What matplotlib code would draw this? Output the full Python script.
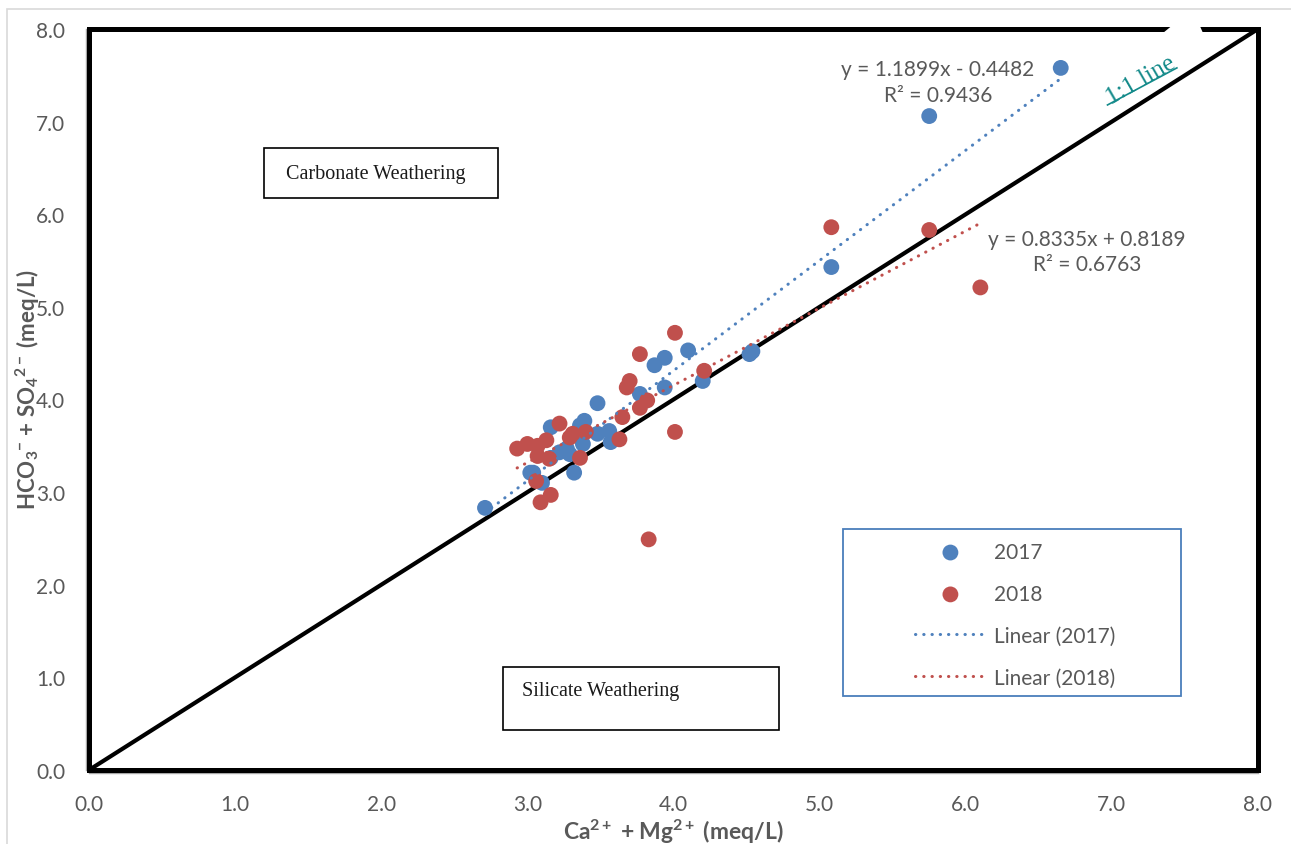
import matplotlib
matplotlib.use("Agg")
import numpy as np
from matplotlib import pyplot as plt
from matplotlib.patches import Rectangle, Polygon
from matplotlib.lines import Line2D

# Ca + Mg vs HCO3 + SO4 (meq/L)
x17 = [2.71, 3.02, 3.04, 3.10, 3.16, 3.16, 3.22, 3.27, 3.29, 3.32, 3.36, 3.39, 3.38, 3.48,
       3.48, 3.56, 3.57, 3.77, 3.87, 3.94, 3.94, 4.10, 4.20, 4.52, 4.54, 5.08, 5.75, 6.65]
y17 = [2.83, 3.21, 3.21, 3.10, 3.70, 3.37, 3.43, 3.47, 3.41, 3.21, 3.72, 3.77, 3.52, 3.63,
       3.96, 3.66, 3.54, 4.06, 4.37, 4.45, 4.13, 4.53, 4.20, 4.49, 4.52, 5.43, 7.06, 7.58]

x18 = [2.93, 3.00, 3.07, 3.07, 3.13, 3.15, 3.06, 3.16, 3.09, 3.22, 3.29, 3.31, 3.36, 3.40,
       3.63, 3.65, 3.68, 3.70, 3.77, 3.77, 3.82, 3.83, 4.01, 4.01, 4.21, 5.08, 5.75, 6.10]
y18 = [3.47, 3.52, 3.39, 3.50, 3.56, 3.36, 3.12, 2.97, 2.89, 3.74, 3.59, 3.63, 3.37, 3.65,
       3.57, 3.81, 4.13, 4.20, 4.49, 3.91, 3.99, 2.49, 3.65, 4.72, 4.31, 5.86, 5.83, 5.21]

# linear trend coefficients (slope, intercept, r2)
fit17 = (1.1899, -0.4482, 0.9436)
fit18 = (0.8335, 0.8189, 0.6763)

ticks = [0, 1, 2, 3, 4, 5, 6, 7, 8]

BLUE = "#4F81BD"
RED = "#C0504D"
GREY = "#595959"

plt.rcParams["font.family"] = ["Lato", "DejaVu Sans"]
plt.rcParams["mathtext.fontset"] = "custom"
plt.rcParams["mathtext.rm"] = "Lato:bold"
plt.rcParams["mathtext.it"] = "Lato:bold"
plt.rcParams["mathtext.bf"] = "Lato:bold"
plt.rcParams["mathtext.default"] = "rm"

W, H = 1291, 845
fig = plt.figure(figsize=(W / 100, H / 100), dpi=100)


def fpx(x, y):
    return (x / W, 1 - y / H)


ax = fig.add_axes([89 / W, 1 - 771 / H, (1258 - 89) / W, (771 - 30) / H])
ax.set_xlim(0, 8)
ax.set_ylim(0, 8)
ax.set_xticks(ticks)
ax.set_yticks(ticks)
ax.set_xticklabels(["%.1f" % t for t in ticks])
ax.set_yticklabels(["%.1f" % t for t in ticks])
ax.tick_params(length=0, labelsize=15, labelcolor=GREY, pad=15)
for s in ["top", "right"]:
    ax.spines[s].set_visible(False)
for s in ["left", "bottom"]:
    ax.spines[s].set_color("#A6A6A6")
    ax.spines[s].set_linewidth(1.0)
    ax.spines[s].set_position(("outward", 2))

# heavy frame round the plot
ax.add_patch(Rectangle((0, 0), 1, 1, transform=ax.transAxes, fill=False,
                       ec="black", lw=3.6, clip_on=False, zorder=5))

# 1:1 line
ax.plot([0, 8], [0, 8], color="black", lw=3.0, zorder=2)

ax.scatter(x17, y17, s=130, color=BLUE, edgecolors="none", zorder=3, label="2017")
ax.scatter(x18, y18, s=130, color=RED, edgecolors="none", zorder=3, label="2018")

dots = (0, (0.1, 2.6))
xx = np.array([min(x17), max(x17)])
ax.plot(xx, fit17[0] * xx + fit17[1], color=BLUE, lw=2.2, linestyle=dots,
        dash_capstyle="round", zorder=4, label="Linear (2017)")
xx = np.array([min(x18), max(x18)])
ax.plot(xx, fit18[0] * xx + fit18[1], color=RED, lw=2.2, linestyle=dots,
        dash_capstyle="round", zorder=4, label="Linear (2018)")

ax.text(5.81, 7.43, "y = %.4fx - %.4f\nR² = %.4f" % (fit17[0], -fit17[1], fit17[2]),
        ha="center", va="center", fontsize=15, color=GREY, linespacing=1.35)
ax.text(6.83, 5.60, "y = %.4fx + %.4f\nR² = %.4f" % (fit18[0], fit18[1], fit18[2]),
        ha="center", va="center", fontsize=15, color=GREY, linespacing=1.35)

# region boxes
ax.add_patch(Rectangle((1.20, 6.175), 1.60, 0.54, fill=True, fc="white", ec="black",
                       lw=1.2, zorder=6))
ax.text(1.345, 6.445, "Carbonate Weathering", ha="left", va="center", fontsize=14.5,
        family="Liberation Serif", color="#1a1a1a", zorder=7)
ax.add_patch(Rectangle((2.83, 0.432), 1.895, 0.68, fill=True, fc="white", ec="black",
                       lw=1.2, zorder=6))
ax.text(2.96, 0.855, "Silicate Weathering", ha="left", va="center", fontsize=14.5,
        family="Liberation Serif", color="#1a1a1a", zorder=7)

# 1:1 label, underlined
ax.text(7.20, 7.45, "1:1 line", rotation=30, ha="center", va="center", fontsize=18,
        family="Liberation Serif", color="#138A8A", zorder=7)
ax.add_line(Line2D([6.97, 7.445], [7.18, 7.58], color="#138A8A", lw=1.2, zorder=7))

ax.set_xlabel(r"Ca$^{2+}$ + Mg$^{2+}$ (meq/L)", fontsize=16.5, fontweight="bold", color=GREY)
ax.xaxis.set_label_coords(0.50, -0.063)
ax.set_ylabel(r"HCO$_3$$^{-}$ + SO$_4$$^{2-}$ (meq/L)", fontsize=16, fontweight="bold",
              color=GREY)
ax.yaxis.set_label_coords(-0.04, 0.515)

# legend in its own blue box
fig.patches.append(Rectangle(fpx(843, 697), 338 / W, 167 / H, transform=fig.transFigure,
                             fill=False, ec="#4A7EBB", lw=1.3))
leg = ax.legend(loc="upper left", bbox_to_anchor=fpx(915, 543), bbox_transform=fig.transFigure,
                frameon=False, fontsize=15, handlelength=3.4, handletextpad=0.4,
                labelspacing=1.05, borderpad=0, borderaxespad=0, scatterpoints=1)
for t in leg.get_texts():
    t.set_color(GREY)

# outer chart border, open past the right and bottom edges
x0, y0 = fpx(7, 10)
fig.patches.append(Rectangle((x0, -0.1), 1.2, y0 + 0.1, transform=fig.transFigure,
                             fill=False, ec="#D9D9D9", lw=1.2))
# white gap left in the top border
fig.patches.append(Polygon([fpx(1163, 34), fpx(1174, 25), fpx(1199, 25), fpx(1203, 34)],
                           closed=True, transform=fig.transFigure, fc="white", ec="none"))

fig.savefig("out.png", dpi=100)
